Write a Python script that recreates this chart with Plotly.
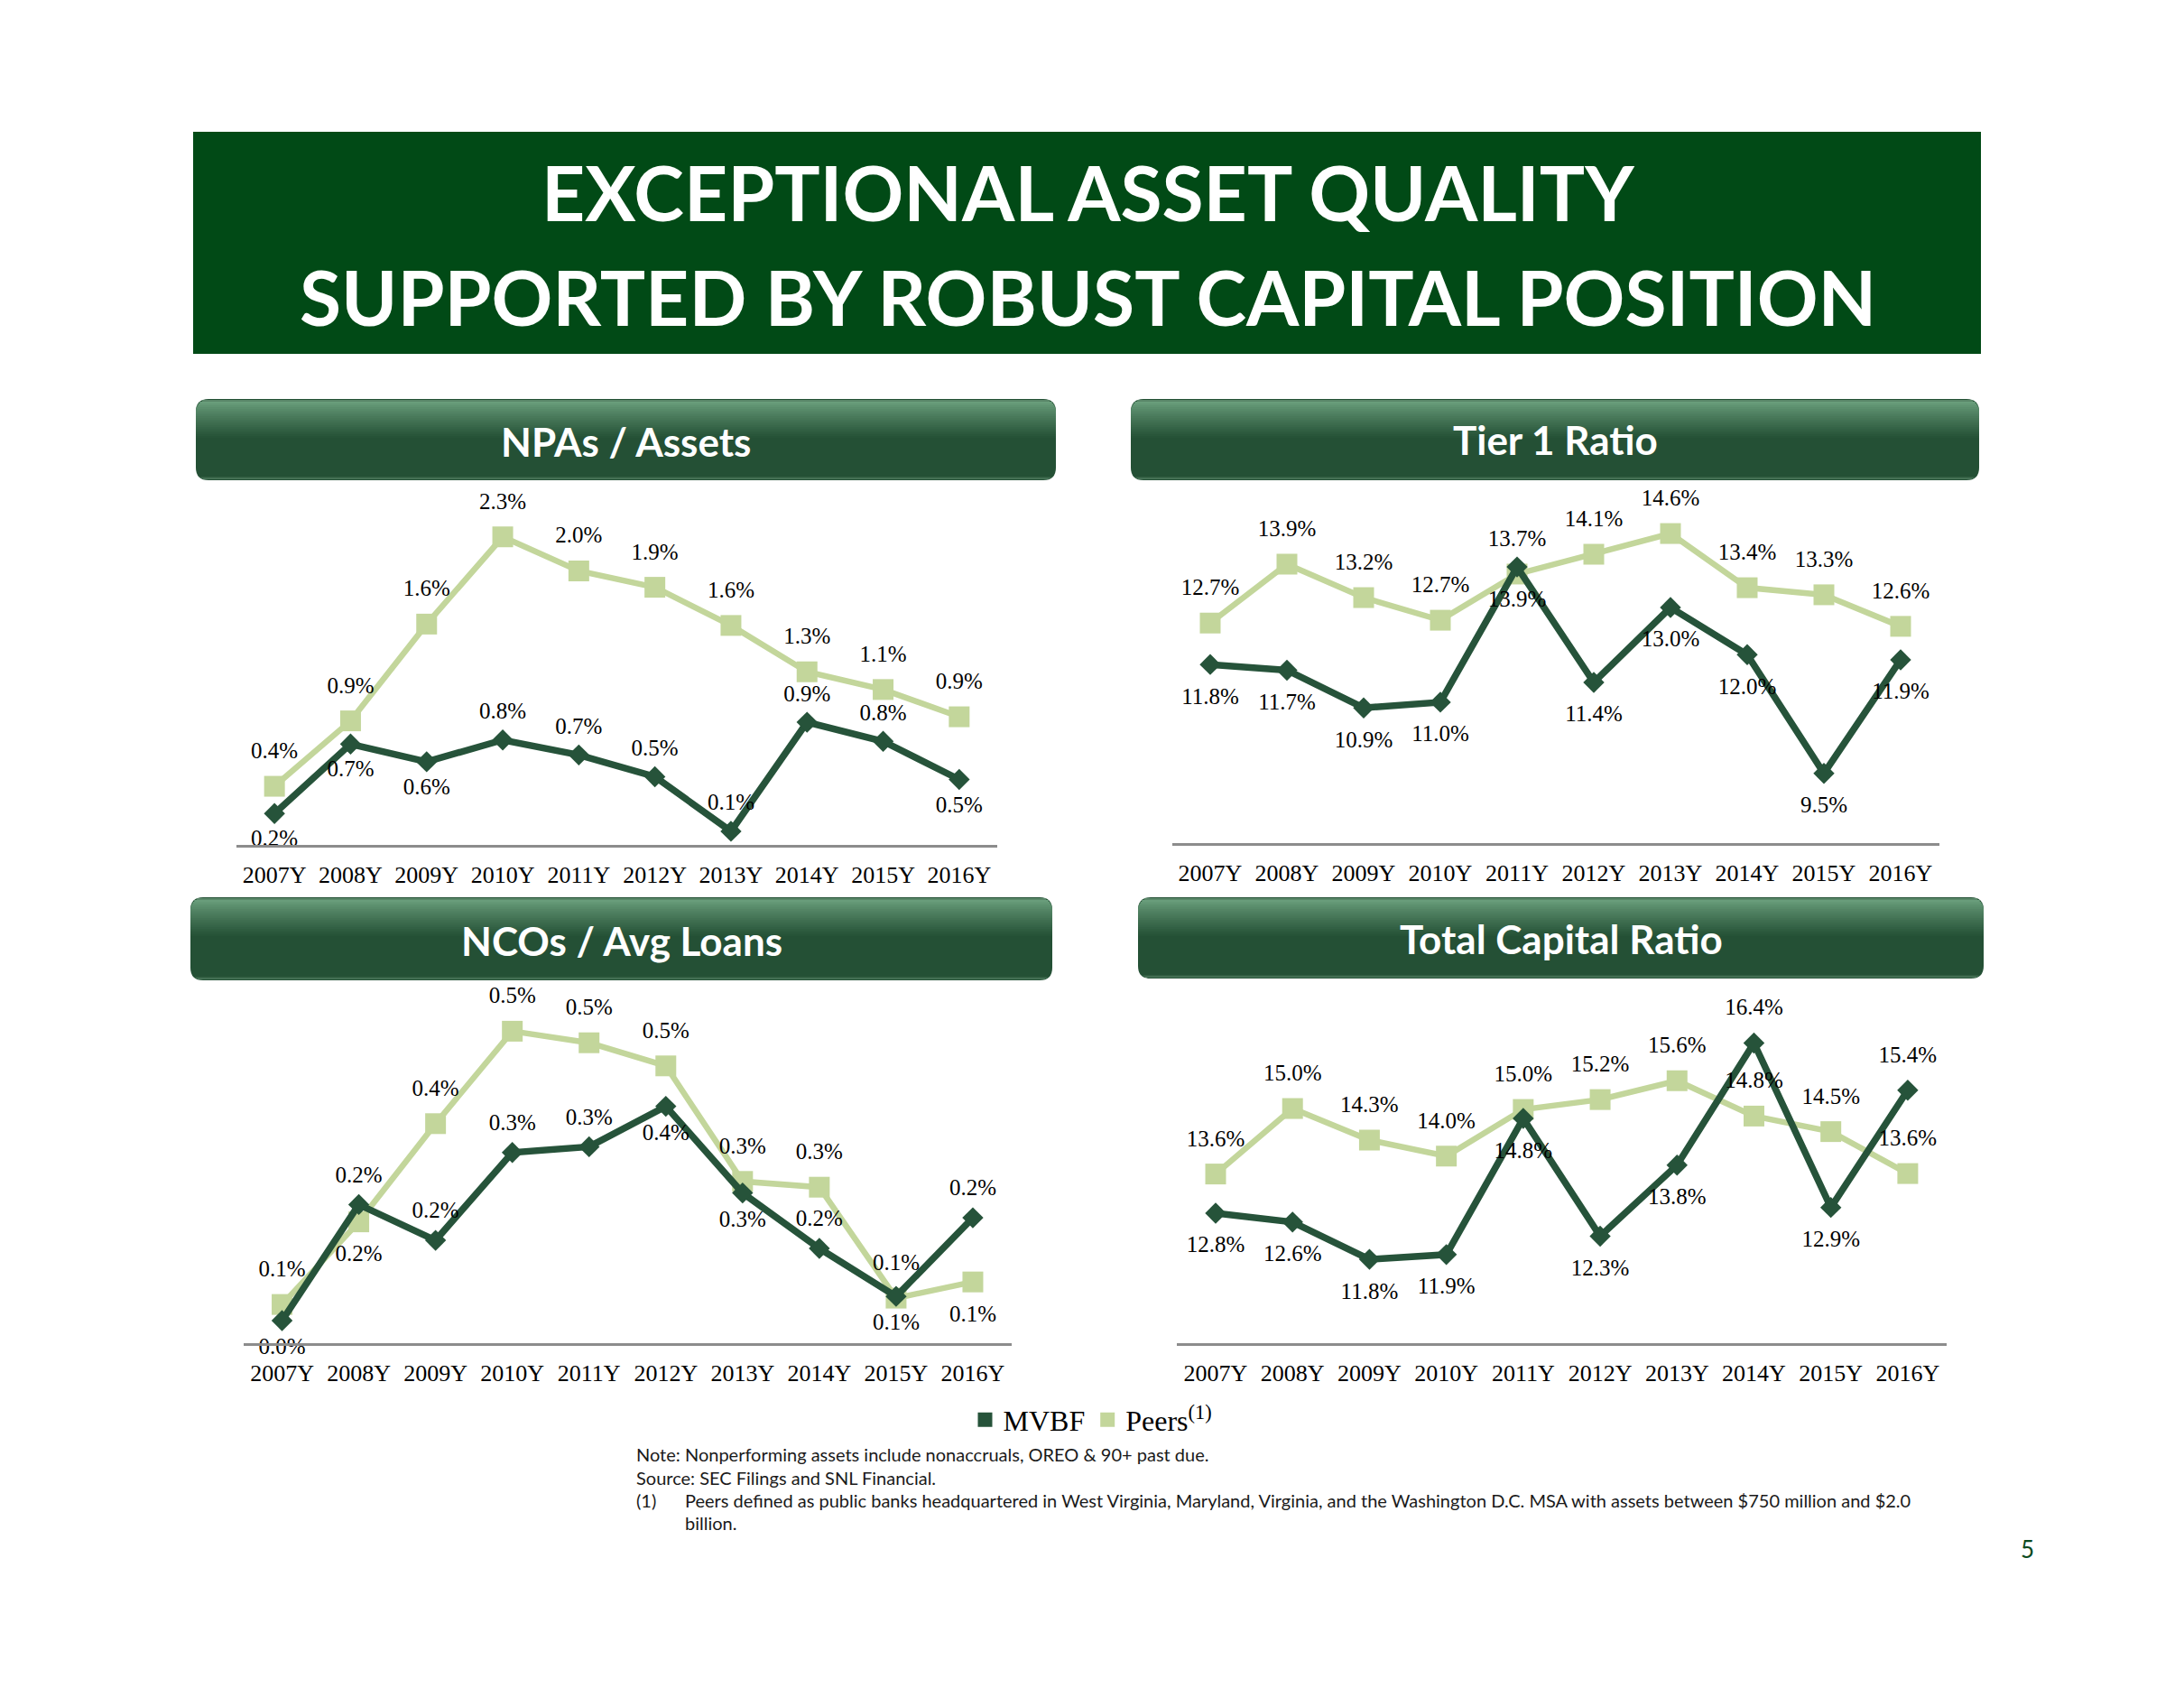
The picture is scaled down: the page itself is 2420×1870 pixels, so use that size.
import plotly.graph_objects as go

W, H = 2420, 1870

# ---------------- data ----------------
years = ["2007Y", "2008Y", "2009Y", "2010Y", "2011Y", "2012Y", "2013Y", "2014Y", "2015Y", "2016Y"]

npa_mvbf = [0.23, 0.74, 0.61, 0.77, 0.66, 0.50, 0.10, 0.90, 0.76, 0.48]
npa_peers = [0.43, 0.91, 1.62, 2.26, 2.01, 1.89, 1.61, 1.27, 1.14, 0.94]

tier1_mvbf = [11.79, 11.67, 10.87, 10.99, 13.86, 11.41, 13.00, 12.00, 9.48, 11.89]
tier1_peers = [12.67, 13.92, 13.21, 12.73, 13.71, 14.13, 14.57, 13.42, 13.27, 12.60]

nco_mvbf = [0.039, 0.24, 0.178, 0.33, 0.34, 0.41, 0.26, 0.164, 0.081, 0.217]
nco_peers = [0.067, 0.21, 0.38, 0.54, 0.52, 0.48, 0.28, 0.27, 0.078, 0.106]

tcr_mvbf = [12.76, 12.57, 11.78, 11.88, 14.77, 12.27, 13.78, 16.37, 12.88, 15.37]
tcr_peers = [13.59, 14.98, 14.31, 13.97, 14.96, 15.17, 15.57, 14.82, 14.49, 13.60]

panel_titles = ["NPAs / Assets", "Tier 1 Ratio", "NCOs / Avg Loans", "Total Capital Ratio"]
series_names = ["MVBF", "Peers<sup>(1)</sup>"]

title_lines = ["EXCEPTIONAL ASSET QUALITY", "SUPPORTED BY ROBUST CAPITAL POSITION"]
notes = [
    "Note: Nonperforming assets include nonaccruals, OREO & 90+ past due.",
    "Source: SEC Filings and SNL Financial.",
]
footnote_mark = "(1)"
footnote_lines = [
    "Peers defined as public banks headquartered in West Virginia, Maryland, Virginia, and the Washington D.C. MSA with assets between $750 million and $2.0",
    "billion.",
]
page_number = "5"

# ---------------- styles ----------------
MVBF_COLOR = "#26533A"
PEERS_COLOR = "#C3D69B"
BANNER = "#014A16"
SERIF = "Liberation Serif"
SANS = "Lato"

T, B = "top center", "bottom center"
panels = [
    dict(mvbf=npa_mvbf, peers=npa_peers, xpx=(262, 1105), ypx=(558.5, 936), yr=(0, 2.5),
         hdr=(217, 442, 1170, 532), hdr_ty=489,
         mpos=[B, B, B, T, T, T, T, T, T, B], ppos=[T] * 10, msize=26, psize=38),
    dict(mvbf=tier1_mvbf, peers=tier1_peers, xpx=(1298.5, 2148.5), ypx=(516.4, 934), yr=(8, 16),
         hdr=(1253, 442, 2193, 532), hdr_ty=487,
         mpos=[B] * 10, ppos=[T] * 10, msize=38, psize=38),
    dict(mvbf=nco_mvbf, peers=nco_peers, xpx=(270, 1120.5), ypx=(1104, 1488), yr=(0, 0.6),
         hdr=(211, 994, 1166, 1086), hdr_ty=1042,
         mpos=[B, T, T, T, T, B, B, T, B, T], ppos=[T, B, T, T, T, T, T, T, T, B], msize=28, psize=38),
    dict(mvbf=tcr_mvbf, peers=tcr_peers, xpx=(1304.4, 2156.5), ypx=(1070.4, 1488), yr=(10, 18),
         hdr=(1261, 994, 2198, 1084), hdr_ty=1040,
         mpos=[B, B, B, B, B, B, B, T, B, T], ppos=[T] * 10, msize=38, psize=38),
]


def px(x):
    return x / W


def py(y):
    return 1 - y / H


fig = go.Figure()
shapes = []
annotations = []
layout_axes = {}

for i, p in enumerate(panels, start=1):
    xa = "x" if i == 1 else f"x{i}"
    ya = "y" if i == 1 else f"y{i}"
    xkey = "xaxis" if i == 1 else f"xaxis{i}"
    ykey = "yaxis" if i == 1 else f"yaxis{i}"
    layout_axes[xkey] = dict(
        domain=[px(p["xpx"][0]), px(p["xpx"][1])], anchor=ya, type="category",
        range=[-0.5, len(years) - 0.5],
        showline=True, linecolor="#8C8C8C", linewidth=3, showgrid=False, zeroline=False,
        ticks="", tickfont=dict(family=SERIF, size=26, color="#000000"), ticklabelstandoff=8,
        fixedrange=True,
    )
    layout_axes[ykey] = dict(
        domain=[py(p["ypx"][1]), py(p["ypx"][0])], anchor=xa, range=list(p["yr"]),
        showgrid=False, zeroline=False, showline=False, showticklabels=False, ticks="",
        fixedrange=True,
    )
    # lines
    fig.add_trace(go.Scatter(x=years, y=p["peers"], mode="lines+markers", xaxis=xa, yaxis=ya,
                             line=dict(color=PEERS_COLOR, width=6.5),
                             marker=dict(symbol="square", size=23, color=PEERS_COLOR),
                             showlegend=False, cliponaxis=False, hoverinfo="skip"))
    fig.add_trace(go.Scatter(x=years, y=p["mvbf"], mode="lines+markers", xaxis=xa, yaxis=ya,
                             line=dict(color=MVBF_COLOR, width=7.5),
                             marker=dict(symbol="diamond", size=18, color=MVBF_COLOR),
                             showlegend=False, cliponaxis=False, hoverinfo="skip"))
    # data labels (invisible marker sets label offset)
    for vals, pos, sz in ((p["peers"], p["ppos"], p["psize"]), (p["mvbf"], p["mpos"], p["msize"])):
        fig.add_trace(go.Scatter(x=years, y=vals, mode="markers+text", xaxis=xa, yaxis=ya,
                                 marker=dict(size=sz, color="rgba(0,0,0,0)"),
                                 texttemplate="%{y:.1f}%", textposition=pos,
                                 textfont=dict(family=SERIF, size=25, color="#000000"),
                                 showlegend=False, cliponaxis=False, hoverinfo="skip"))

    # header bar
    x0, y0, x1, y1 = p["hdr"]
    r = 14
    rx, ry = r / W, r / H
    X0, X1, Yt, Yb = px(x0), px(x1), py(y0), py(y1)
    path = (f"M {X0+rx},{Yt} L {X1-rx},{Yt} Q {X1},{Yt} {X1},{Yt-ry} L {X1},{Yb+ry} "
            f"Q {X1},{Yb} {X1-rx},{Yb} L {X0+rx},{Yb} Q {X0},{Yb} {X0},{Yb+ry} "
            f"L {X0},{Yt-ry} Q {X0},{Yt} {X0+rx},{Yt} Z")
    shapes.append(dict(type="path", path=path, xref="paper", yref="paper",
                       fillcolor="#245035", line=dict(width=0), layer="above"))

    def inset(dy):
        if dy >= r:
            return 0
        return r - (r * r - (r - dy) ** 2) ** 0.5

    hh = y1 - y0
    top_c = (112, 165, 130)
    base_c = (36, 80, 53)
    steps = 22
    for k in range(steps):
        dy0 = 1 + k * 2
        dy1 = dy0 + 2
        t = k / (steps - 1)
        t = t ** 0.8
        c = tuple(int(top_c[j] + (base_c[j] - top_c[j]) * t) for j in range(3))
        if k == 0:
            c = (90, 135, 105)
        ins = inset((dy0 + dy1) / 2)
        shapes.append(dict(type="rect", xref="paper", yref="paper",
                           x0=px(x0 + ins), x1=px(x1 - ins), y0=py(y0 + dy1), y1=py(y0 + dy0),
                           fillcolor=f"rgb{c}", line=dict(width=0), layer="above"))
    for k, c in enumerate([(48, 92, 64), (62, 106, 78), (74, 118, 90)]):
        dy0 = hh - 4 + k
        ins = inset(hh - dy0 - 0.5)
        shapes.append(dict(type="rect", xref="paper", yref="paper",
                           x0=px(x0 + ins), x1=px(x1 - ins), y0=py(y0 + dy0 + 1), y1=py(y0 + dy0),
                           fillcolor=f"rgb{c}", line=dict(width=0), layer="above"))
    annotations.append(dict(text=panel_titles[i - 1], x=px((x0 + x1) / 2), y=py(p["hdr_ty"]),
                            xref="paper", yref="paper", showarrow=False, xanchor="center",
                            yanchor="middle",
                            font=dict(family=SANS, size=44, color="#FFFFFF", weight="bold")))

# legend entries
for name, color in zip(series_names, (MVBF_COLOR, PEERS_COLOR)):
    fig.add_trace(go.Scatter(x=[None], y=[None], mode="markers", name=name,
                             marker=dict(symbol="square", size=21, color=color),
                             showlegend=True, hoverinfo="skip"))

# title banner
shapes.insert(0, dict(type="rect", xref="paper", yref="paper", x0=px(214), x1=px(2195),
                      y0=py(392), y1=py(146), fillcolor=BANNER, line=dict(width=0), layer="below"))
for line, cy in zip(title_lines, (213, 329)):
    annotations.append(dict(text=line, x=px(1205), y=py(cy), xref="paper", yref="paper",
                            showarrow=False, xanchor="center", yanchor="middle",
                            font=dict(family=SANS, size=84, color="#FFFFFF", weight="bold")))

# notes
note_font = dict(family=SANS, size=20, color="#1A1A1A")
for line, cy in zip(notes, (1611, 1637)):
    annotations.append(dict(text=line, x=px(703), y=py(cy), xref="paper", yref="paper",
                            showarrow=False, xanchor="left", yanchor="middle", font=note_font))
annotations.append(dict(text=footnote_mark, x=px(703), y=py(1662), xref="paper", yref="paper",
                        showarrow=False, xanchor="left", yanchor="middle", font=note_font))
for line, cy in zip(footnote_lines, (1662, 1687)):
    annotations.append(dict(text=line, x=px(757), y=py(cy), xref="paper", yref="paper",
                            showarrow=False, xanchor="left", yanchor="middle", font=note_font))
annotations.append(dict(text=page_number, x=px(2246), y=py(1716), xref="paper", yref="paper",
                        showarrow=False, xanchor="center", yanchor="middle",
                        font=dict(family=SANS, size=26, color="#0B4A20")))

fig.update_layout(
    width=W, height=H, margin=dict(l=0, r=0, t=0, b=0),
    paper_bgcolor="#FFFFFF", plot_bgcolor="rgba(0,0,0,0)",
    shapes=shapes, annotations=annotations,
    legend=dict(orientation="h", x=0.5, xanchor="center", y=py(1573), yanchor="middle",
                font=dict(family=SERIF, size=32, color="#000000"), itemwidth=30,
                bgcolor="rgba(0,0,0,0)"),
    **layout_axes,
)

fig.write_html("out.html")
